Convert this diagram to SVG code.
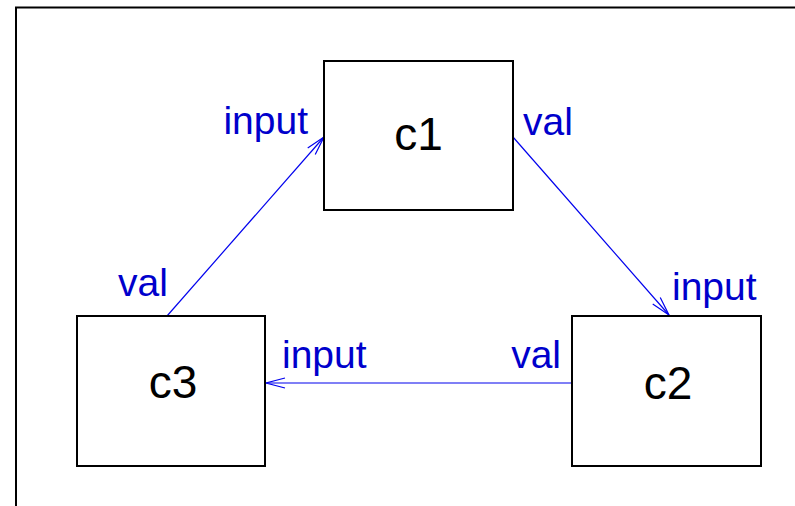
<svg xmlns="http://www.w3.org/2000/svg" width="795" height="506" viewBox="0 0 795 506">
<defs>
<style>
.box{fill:#fff;stroke:#000;stroke-width:2}
.name{font-family:"Liberation Sans",Arial,sans-serif;font-size:46px;fill:#000;text-anchor:middle}
.port{font-family:"Liberation Sans",Arial,sans-serif;font-size:39px;fill:#0000cc}
.edge{stroke:#0000ee;stroke-width:1.2;fill:none;marker-end:url(#arr)}
</style>
<marker id="arr" markerUnits="userSpaceOnUse" markerWidth="24" markerHeight="14" viewBox="-20 -7 24 14" refX="0" refY="0" orient="auto">
<path d="M-19,-5 L0,0 L-19,5" fill="none" stroke="#0000ee" stroke-width="1.2"/>
</marker>
</defs>
<rect x="16" y="7.5" width="800" height="520" fill="#fff" stroke="#000" stroke-width="2"/>
<g id="connectors">
<line class="edge" x1="167" y1="316" x2="324" y2="137"/>
<line class="edge" x1="513" y1="137" x2="669" y2="315"/>
<line class="edge" x1="572" y1="383" x2="266" y2="383"/>
</g>
<g id="c1">
<rect class="box" x="324" y="61" width="189" height="149"/>
<text class="name" x="418.5" y="150">c1</text>
<text class="port" x="308" y="134" text-anchor="end">input</text>
<text class="port" x="523" y="135">val</text>
</g>
<g id="c2">
<rect class="box" x="572" y="316" width="189" height="150"/>
<text class="name" x="668" y="399">c2</text>
<text class="port" x="672" y="300">input</text>
<text class="port" x="561" y="368" text-anchor="end">val</text>
</g>
<g id="c3">
<rect class="box" x="77" y="316" width="188" height="150"/>
<text class="name" x="173" y="398">c3</text>
<text class="port" x="118" y="296">val</text>
<text class="port" x="282" y="368">input</text>
</g>
</svg>
